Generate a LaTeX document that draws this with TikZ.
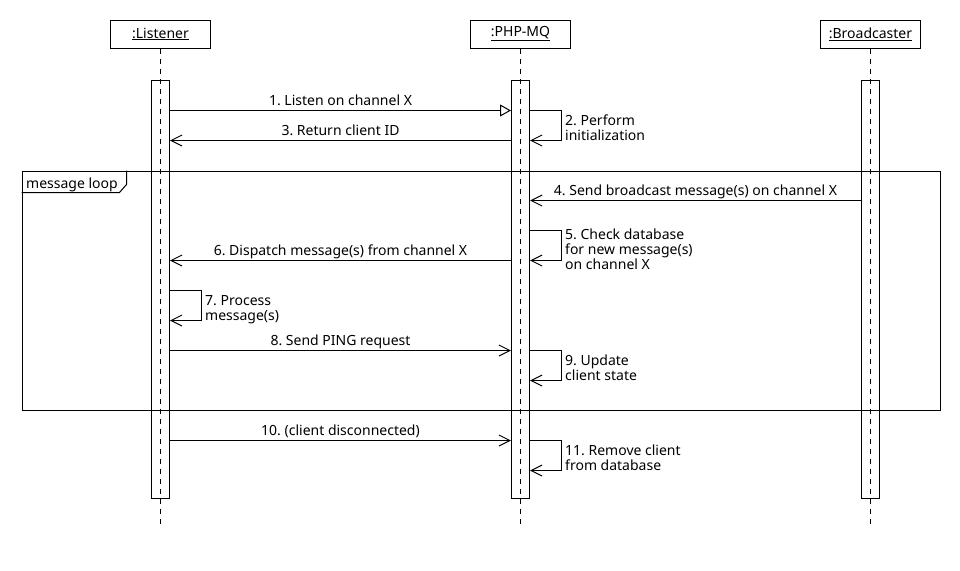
\documentclass[tikz,border=0pt]{standalone}
\usepackage{fontspec}
\setmainfont{Noto Sans}
\usetikzlibrary{arrows.meta}
\begin{document}
\begin{tikzpicture}[x=1pt,y=-1pt,
  txt/.style={font=\fontsize{14}{15}\selectfont\frenchspacing},
  head/.style={draw, line width=1pt, minimum width=100pt, minimum height=28pt, inner sep=0pt, txt},
  act/.style={draw, line width=1pt, minimum width=18pt, minimum height=418pt, inner sep=0pt},
  life/.style={line width=1pt, dash pattern=on 5pt off 5pt},
  msg/.style={line width=1pt, -{Straight Barb[length=11pt,width=11pt]}},
  call/.style={line width=1pt, -{Triangle[open,length=11pt,width=12pt]}},
  lbl/.style={txt, inner sep=0pt, anchor=base, yshift=5pt},
  note/.style={txt, inner sep=0pt, anchor=base west, align=left},
  loopframe/.style={draw, line width=1pt, inner sep=0pt, anchor=north west},
]
\useasboundingbox (0,0) rectangle (960,570);
\fill[white] (0,0) rectangle (960,570);

% participants
\node[head] (L) at (160.5,34) {\underline{:Listener}};
\node[head] (P) at (520.5,34) {\underline{:PHP-MQ}};
\node[head] (B) at (870.5,34) {\underline{:Broadcaster}};

\coordinate (Le) at (160.5,528);
\coordinate (Pe) at (520.5,528);
\coordinate (Be) at (870.5,528);
\draw[life] (L.south) -- (Le);
\draw[life] (P.south) -- (Pe);
\draw[life] (B.south) -- (Be);

% activation bars
\node[act] (aL) at (160.5,289) {};
\node[act] (aP) at (520.5,289) {};
\node[act] (aB) at (870.5,289) {};

% frame
\node[loopframe, minimum width=918pt, minimum height=239pt] (F) at (21.5,170.5) {};
\node[txt, inner sep=0pt, anchor=base west] (FL) at (26,188) {message loop};
\draw[line width=1pt] (F.north west |- 0,192.5) -- (119.5,192.5) -- (126.5,184.5) -- (126.5,170.5);

% 1
\draw[call] (aL.east |- 0,110.5) -- (aP.west |- 0,110.5) node[lbl, midway] {1. Listen on channel X};
% 2
\draw[msg] (aP.east |- 0,110.5) -- ++(31,0) |- (aP.east |- 0,140.5);
\node[note] (n2) at (565,140) {2. Perform\\initialization};
% 3
\draw[msg] (aP.west |- 0,140.5) -- (aL.east |- 0,140.5) node[lbl, midway] {3. Return client ID};
% 4
\draw[msg] (aB.west |- 0,200.5) -- (aP.east |- 0,200.5) node[lbl, midway] {4. Send broadcast message(s) on channel X};
% 5
\draw[msg] (aP.east |- 0,230.5) -- ++(31,0) |- (aP.east |- 0,260.5);
\node[note] (n5) at (565,269) {5. Check database\\for new message(s)\\on channel X};
% 6
\draw[msg] (aP.west |- 0,260.5) -- (aL.east |- 0,260.5) node[lbl, midway] {6. Dispatch message(s) from channel X};
% 7
\draw[msg] (aL.east |- 0,290.5) -- ++(31,0) |- (aL.east |- 0,320.5);
\node[note] (n7) at (205,320) {7. Process\\message(s)};
% 8
\draw[msg] (aL.east |- 0,350.5) -- (aP.west |- 0,350.5) node[lbl, midway] {8. Send PING request};
% 9
\draw[msg] (aP.east |- 0,350.5) -- ++(31,0) |- (aP.east |- 0,380.5);
\node[note] (n9) at (565,380) {9. Update\\client state};
% 10
\draw[msg] (aL.east |- 0,440.5) -- (aP.west |- 0,440.5) node[lbl, midway] {10. (client disconnected)};
% 11
\draw[msg] (aP.east |- 0,440.5) -- ++(31,0) |- (aP.east |- 0,470.5);
\node[note] (n11) at (565,470) {11. Remove client\\from database};
\end{tikzpicture}
\end{document}
